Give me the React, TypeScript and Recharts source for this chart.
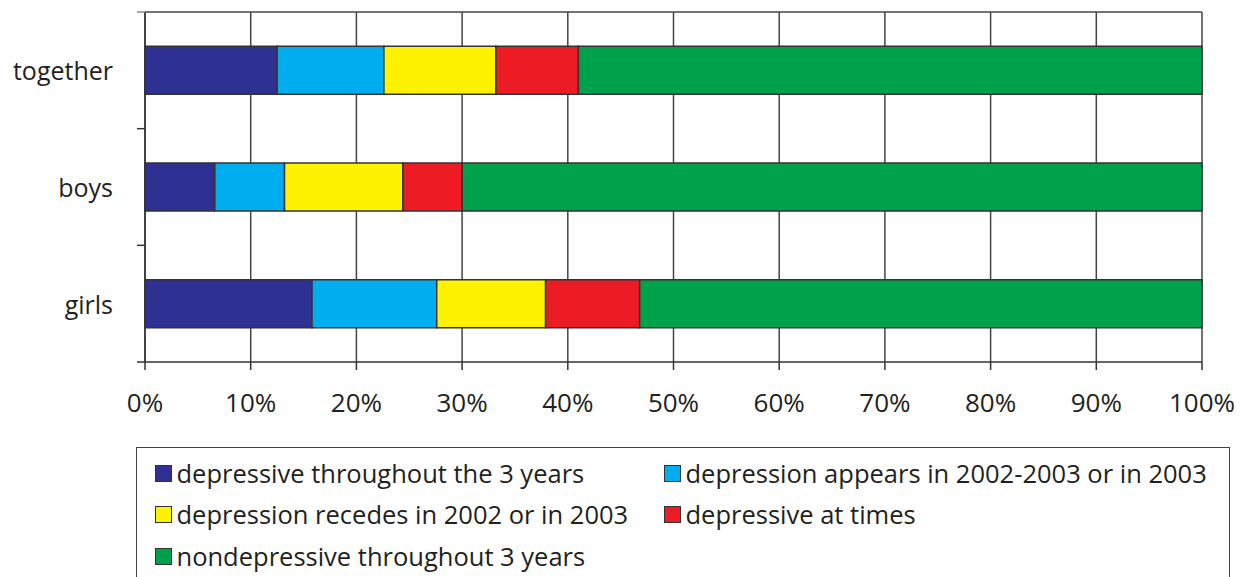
import React from 'react';
import { BarChart, Bar, XAxis, YAxis, CartesianGrid, Legend } from 'recharts';

const categories = ['together', 'boys', 'girls'];
const seriesNames = [
  'depressive throughout the 3 years',
  'depression appears in 2002-2003 or in 2003',
  'depression recedes in 2002 or in 2003',
  'depressive at times',
  'nondepressive throughout 3 years',
];
const depressiveAll = [12.5, 6.6, 15.8];
const appears = [10.1, 6.6, 11.8];
const recedes = [10.6, 11.2, 10.3];
const atTimes = [7.8, 5.6, 8.9];
const nondepressive = [59.0, 70.0, 53.2];
const xTicks = [0, 10, 20, 30, 40, 50, 60, 70, 80, 90, 100];
const colors = ['#2E3192', '#00AEEF', '#FFF200', '#ED1C24', '#00A14B'];

const keys = ['s0', 's1', 's2', 's3', 's4'];
const seriesValues = [depressiveAll, appears, recedes, atTimes, nondepressive];
const data = categories.map((c, i) => {
  const row: any = { name: c };
  keys.forEach((k, j) => (row[k] = seriesValues[j][i]));
  return row;
});

const FONT = '"Open Sans", "Noto Sans", sans-serif';
const TICK_SIZE = 8;
const TICK_MARGIN = 24;

const CategoryTick = (props: any) => {
  const { x, y, payload, index } = props;
  const half = payload && payload.offset ? payload.offset : 0;
  const axisX = x + TICK_MARGIN + TICK_SIZE;
  const lineX1 = x + TICK_MARGIN;
  return (
    <g>
      <text
        x={x}
        y={y}
        textAnchor="end"
        dominantBaseline="central"
        fill="#231f20"
        fontSize={25}
        fontFamily={FONT}
      >
        {payload.value}
      </text>
      {index === 0 && (
        <line x1={lineX1} x2={axisX} y1={y - half} y2={y - half} stroke="#888" strokeWidth={1.5} />
      )}
      <line x1={lineX1} x2={axisX} y1={y + half} y2={y + half} stroke="#333" strokeWidth={1.5} />
    </g>
  );
};

const legendOrder = [0, 1, 2, 3, 4];

const LegendContent = () => {
  const positions = [
    { left: 17.5, top: 10 },
    { left: 526.5, top: 10 },
    { left: 17.5, top: 51 },
    { left: 526.5, top: 51 },
    { left: 17.5, top: 93 },
  ];
  return (
    <div
      style={{
        position: 'relative',
        width: 1094,
        height: 140,
        borderTop: '1.5px solid #444',
        borderLeft: '1.5px solid #444',
        borderRight: '1.5px solid #444',
        boxSizing: 'border-box',
        fontFamily: FONT,
        fontSize: 25.5,
        color: '#231f20',
      }}
    >
      {legendOrder.map((i, idx) => (
        <div
          key={i}
          style={{
            position: 'absolute',
            left: positions[idx].left,
            top: positions[idx].top,
            display: 'flex',
            alignItems: 'center',
            whiteSpace: 'nowrap',
            height: 30,
          }}
        >
          <span
            style={{
              display: 'inline-block',
              width: 15,
              height: 15,
              background: colors[i],
              border: '1.5px solid #333',
              marginRight: 5,
            }}
          />
          <span>{seriesNames[i]}</span>
        </div>
      ))}
    </div>
  );
};

export default function App() {
  return (
    <div style={{ position: 'absolute', left: 0, top: 0, width: 1245, height: 577, background: '#fff' }}>
      <BarChart
        width={1245}
        height={577}
        data={data}
        layout="vertical"
        margin={{ top: 12, right: 43, left: 0, bottom: 165 }}
        barCategoryGap="29.4%"
      >
        <CartesianGrid
          horizontal={{ stroke: '#888', strokeWidth: 1.5 } as any}
          vertical={true}
          stroke="#444"
          strokeWidth={1.5}
          horizontalCoordinatesGenerator={(p: any) => [p.offset.top]}
        />
        <XAxis
          type="number"
          domain={[0, 100]}
          ticks={xTicks}
          tickFormatter={(v: number) => `${v}%`}
          height={50}
          tickSize={8}
          tickMargin={24}
          axisLine={{ stroke: '#333', strokeWidth: 1.5 }}
          tickLine={{ stroke: '#333', strokeWidth: 1.5 }}
          tick={{ fill: '#231f20', fontSize: 26, fontFamily: FONT }}
          interval={0}
        />
        <YAxis
          type="category"
          dataKey="name"
          width={145}
          axisLine={{ stroke: '#333', strokeWidth: 1.5 }}
          tickLine={false}
          tickSize={TICK_SIZE}
          tickMargin={TICK_MARGIN}
          tick={<CategoryTick />}
          interval={0}
        />
        {keys.map((k, j) => (
          <Bar
            key={k}
            dataKey={k}
            name={seriesNames[j]}
            stackId="a"
            fill={colors[j]}
            stroke="#333"
            strokeWidth={1.5}
            isAnimationActive={false}
          />
        ))}
        <Legend
          layout="horizontal"
          verticalAlign="middle"
          align="center"
          wrapperStyle={{ left: 136, top: 447, width: 1094, height: 140 }}
          content={<LegendContent />}
        />
      </BarChart>
    </div>
  );
}
